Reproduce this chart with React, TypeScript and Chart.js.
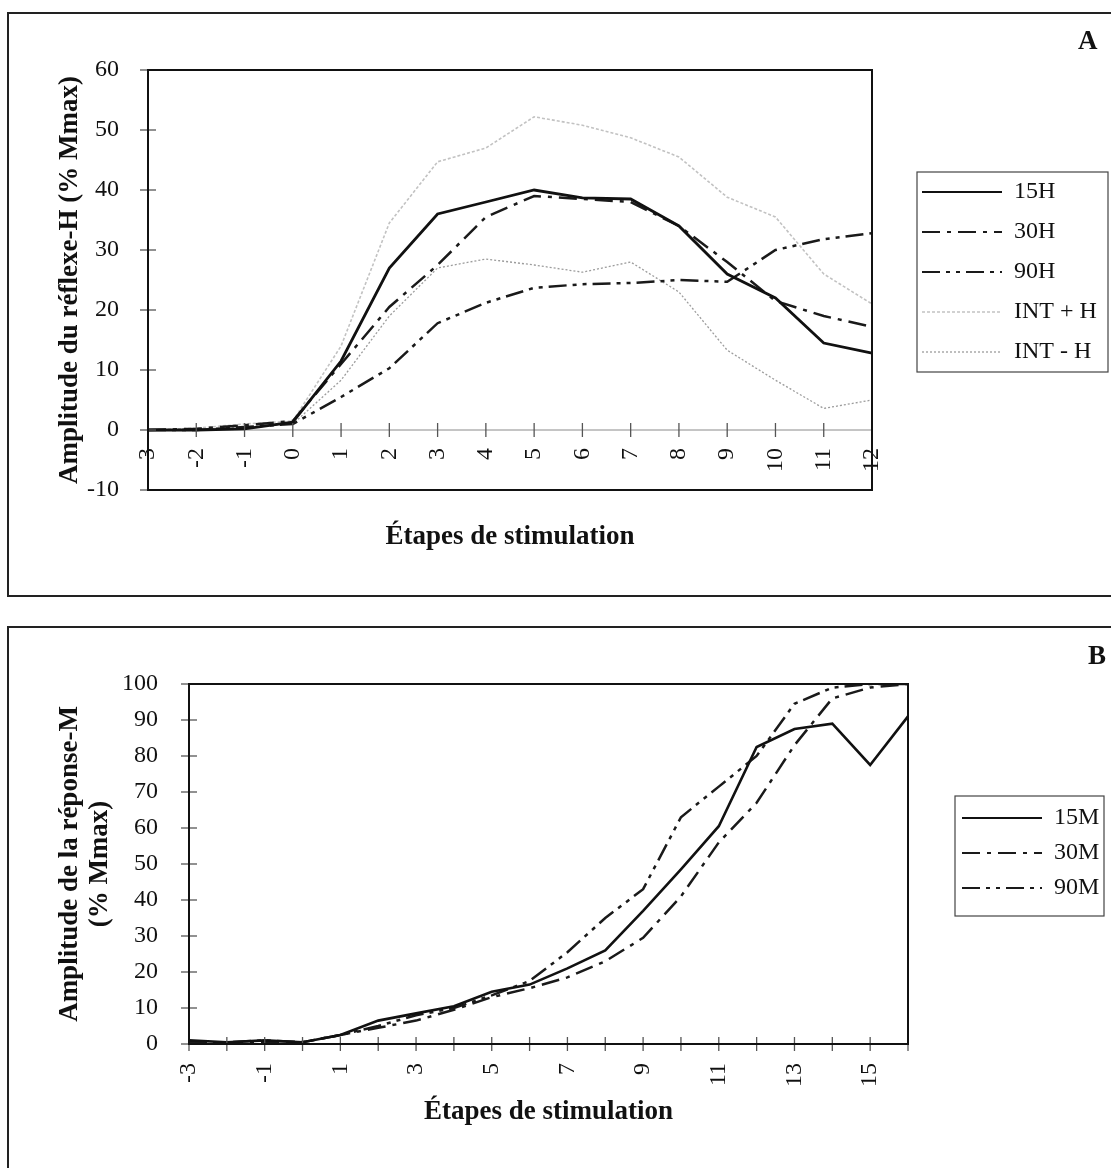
import React, { useEffect, useRef } from 'react';
import { Chart, registerables } from 'chart.js';

Chart.register(...registerables);

// ---------- Data ----------
const xLabelsA = ['-3', '-2', '-1', '0', '1', '2', '3', '4', '5', '6', '7', '8', '9', '10', '11', '12'];
const h15 = [0, 0, 0.2, 1.3, 11.5, 27, 36, 38, 40, 38.7, 38.5, 34, 26, 22, 14.5, 12.8];
const h30 = [0, 0.2, 0.8, 1.5, 11, 20.5, 27.5, 35.5, 39, 38.5, 38, 34, 28, 21.5, 19, 17.2];
const h90 = [0, 0, 0.5, 1, 5.5, 10.3, 17.8, 21.2, 23.7, 24.3, 24.5, 25, 24.7, 30, 31.8, 32.8];
const intPlusH = [0, 0.3, 1, 1.5, 14, 34.5, 44.7, 47, 52.2, 50.8, 48.7, 45.5, 38.8, 35.5, 26, 21];
const intMinusH = [0, 0, 0.5, 1, 8.3, 19, 27, 28.5, 27.5, 26.3, 28, 23, 13.3, 8.3, 3.6, 5];

const xLabelsB = ['-3', '-2', '-1', '0', '1', '2', '3', '4', '5', '6', '7', '8', '9', '10', '11', '12', '13', '14', '15', '16'];
const m15 = [1, 0.5, 1, 0.5, 2.5, 6.5, 8.5, 10.5, 14.5, 16.5, 21, 26, 37, 48.5, 60.5, 82.5, 87.5, 89, 77.5, 91];
const m30 = [0.5, 0.5, 0.5, 0.5, 2.5, 4.5, 6.5, 9.5, 13, 15.5, 18.5, 23, 29.5, 41, 56, 67, 83, 96, 99, 100];
const m90 = [0.5, 0.5, 1, 0.5, 2.5, 5, 8, 10, 13.5, 17.5, 25.5, 35, 43, 63, 71.5, 80, 94.5, 99, 100, 100];

const yTitleA = 'Amplitude du réflexe-H (% Mmax)';
const yTitleB = ['Amplitude de la réponse-M', '(% Mmax)'];
const xTitle = 'Étapes de stimulation';

// ---------- Styles ----------
const SERIF = "'Liberation Serif', 'Times New Roman', Times, serif";
const DASH_DOT = [18, 7, 4, 7];
const DASH_DOT_DOT = [18, 6, 4, 6, 4, 6];

const decorPlugin: any = {
  id: 'decor',
  afterLayout(chart: any, _args: any, opts: any) {
    const lg = chart.legend;
    if (lg && opts.legendLeft != null) {
      lg.left = opts.legendLeft;
      lg.right = opts.legendLeft + lg.width;
      lg.top = opts.legendTop;
      lg.bottom = opts.legendTop + lg.height;
    }
  },
  beforeDatasetsDraw(chart: any, _args: any, opts: any) {
    const { ctx, chartArea: a, scales } = chart;
    if (opts.zeroLine) {
      const y0 = scales.y.getPixelForValue(0);
      ctx.save();
      ctx.strokeStyle = '#8a8a8a';
      ctx.lineWidth = 1;
      ctx.beginPath();
      ctx.moveTo(a.left, y0);
      ctx.lineTo(a.right, y0);
      ctx.stroke();
      ctx.restore();
    }
  },
  afterDraw(chart: any, _args: any, opts: any) {
    const { ctx, chartArea: a, scales } = chart;
    const x = scales.x;
    const y = scales.y;
    const yLine = y.getPixelForValue(opts.xAxisAt);
    ctx.save();
    ctx.strokeStyle = '#555';
    ctx.lineWidth = 1.3;
    x.ticks.forEach((_t: any, i: number) => {
      const px = x.getPixelForTick(i);
      ctx.beginPath();
      ctx.moveTo(px, yLine - 7);
      ctx.lineTo(px, yLine + 7);
      ctx.stroke();
    });
    y.ticks.forEach((t: any) => {
      const py = y.getPixelForValue(t.value);
      ctx.beginPath();
      ctx.moveTo(a.left - 8, py);
      ctx.lineTo(a.left + 8, py);
      ctx.stroke();
    });
    ctx.strokeStyle = '#111';
    ctx.lineWidth = 2;
    ctx.strokeRect(a.left, a.top, a.right - a.left, a.bottom - a.top);
    const f = opts.legendFrame;
    if (f) {
      ctx.strokeStyle = '#444';
      ctx.lineWidth = 1.2;
      ctx.strokeRect(f[0], f[1], f[2] - f[0], f[3] - f[1]);
    }
    ctx.restore();
  },
};

function line(label: string, data: number[], color: string, width: number, dash: number[]) {
  return {
    label,
    data,
    borderColor: color,
    backgroundColor: color,
    borderWidth: width,
    borderDash: dash,
    pointRadius: 0,
    fill: false,
    tension: 0,
  };
}

const legendLabels = (padding: number) => ({
  usePointStyle: true,
  pointStyle: 'line',
  pointStyleWidth: 80,
  padding,
  color: '#111',
  font: { family: SERIF, size: 24 },
  generateLabels: (chart: any) => {
    const base = (Chart.defaults.plugins.legend.labels as any).generateLabels(chart);
    return base.map((it: any, i: number) => {
      const ds: any = chart.data.datasets[i];
      return {
        ...it,
        pointStyle: 'line',
        lineDash: ds.borderDash,
        lineWidth: Math.min(ds.borderWidth, 2.2),
        strokeStyle: ds.borderColor,
        fillStyle: ds.borderColor,
      };
    });
  },
});

const tickFont = { family: SERIF, size: 24 };
const titleFont = { family: SERIF, size: 27, weight: 'bold' as const, lineHeight: '30px' };

function ChartA() {
  const ref = useRef<HTMLCanvasElement | null>(null);
  useEffect(() => {
    if (!ref.current) return;
    const chart = new Chart(ref.current, {
      type: 'line',
      data: {
        labels: xLabelsA,
        datasets: [
          line('15H', h15, '#111', 2.8, []),
          line('30H', h30, '#1a1a1a', 2.5, DASH_DOT),
          line('90H', h90, '#1a1a1a', 2.5, DASH_DOT_DOT),
          line('INT + H', intPlusH, '#c2c2c2', 1.6, [3, 2]),
          line('INT - H', intMinusH, '#9c9c9c', 1.3, [2, 2]),
        ],
      },
      options: {
        animation: false,
        responsive: false,
        maintainAspectRatio: false,
        layout: { padding: { left: 46, top: 55, right: 237, bottom: 103 } },
        scales: {
          x: {
            type: 'category',
            position: { y: 0 } as any,
            grid: { display: false },
            border: { display: false },
            ticks: {
              autoSkip: false,
              minRotation: 90,
              maxRotation: 90,
              padding: 10,
              color: '#111',
              font: tickFont,
            },
            title: { display: true, text: xTitle, color: '#111', font: titleFont, padding: 0 },
            afterFit: (s: any) => { s.height = 122; },
          },
          y: {
            min: -10,
            max: 60,
            grid: { display: false },
            border: { display: false },
            ticks: { stepSize: 10, padding: 21, color: '#111', font: tickFont },
            title: { display: true, text: yTitleA, color: '#111', font: titleFont, padding: 0 },
            afterFit: (s: any) => { s.width = 93; },
          },
        },
        plugins: {
          legend: {
            display: true,
            position: 'chartArea',
            fullSize: false,
            align: 'start',
            labels: legendLabels(16),
          },
          tooltip: { enabled: false },
          decor: {
            legendLeft: 897,
            legendTop: 149,
            legendFrame: [908, 157, 1099, 357],
            zeroLine: true,
            xAxisAt: 0,
          },
        } as any,
      },
      plugins: [decorPlugin],
    });
    return () => chart.destroy();
  }, []);
  return (
    <canvas
      ref={ref}
      width={1100}
      height={578}
      style={{ position: 'absolute', left: 9, top: 15, width: 1100, height: 578 }}
    />
  );
}

function ChartB() {
  const ref = useRef<HTMLCanvasElement | null>(null);
  useEffect(() => {
    if (!ref.current) return;
    const chart = new Chart(ref.current, {
      type: 'line',
      data: {
        labels: xLabelsB,
        datasets: [
          line('15M', m15, '#111', 2.6, []),
          line('30M', m30, '#1a1a1a', 2.5, DASH_DOT),
          line('90M', m90, '#1a1a1a', 2.5, DASH_DOT_DOT),
        ],
      },
      options: {
        animation: false,
        responsive: false,
        maintainAspectRatio: false,
        layout: { padding: { left: 46, top: 56, right: 201, bottom: 41 } },
        scales: {
          x: {
            type: 'category',
            position: 'bottom',
            grid: { display: false },
            border: { display: false },
            ticks: {
              autoSkip: false,
              minRotation: 90,
              maxRotation: 90,
              padding: 11,
              color: '#111',
              font: tickFont,
              callback: (_v: any, i: number) => (i % 2 === 0 ? xLabelsB[i] : ''),
            },
            title: { display: true, text: xTitle, color: '#111', font: titleFont, padding: 0 },
            afterFit: (s: any) => { s.height = 83; },
          },
          y: {
            min: 0,
            max: 100,
            grid: { display: false },
            border: { display: false },
            ticks: { stepSize: 10, padding: 23, color: '#111', font: tickFont },
            title: { display: true, text: yTitleB, color: '#111', font: titleFont, padding: 0 },
            afterFit: (s: any) => { s.width = 134; },
          },
        },
        plugins: {
          legend: {
            display: true,
            position: 'chartArea',
            fullSize: false,
            align: 'start',
            labels: legendLabels(11),
          },
          tooltip: { enabled: false },
          decor: {
            legendLeft: 942,
            legendTop: 167,
            legendFrame: [946, 168, 1095, 288],
            zeroLine: false,
            xAxisAt: 0,
          },
        } as any,
      },
      plugins: [decorPlugin],
    });
    return () => chart.destroy();
  }, []);
  return (
    <canvas
      ref={ref}
      width={1100}
      height={540}
      style={{ position: 'absolute', left: 9, top: 628, width: 1100, height: 540 }}
    />
  );
}

export default function App() {
  const letter: React.CSSProperties = {
    position: 'absolute',
    fontFamily: SERIF,
    fontWeight: 'bold',
    fontSize: 27,
    lineHeight: '32px',
    color: '#111',
  };
  return (
    <div
      style={{
        position: 'absolute',
        left: 0,
        top: 0,
        width: 1111,
        height: 1168,
        overflow: 'hidden',
        background: '#fff',
      }}
    >
      <div style={{ position: 'absolute', left: 7, top: 12, width: 1120, height: 581, border: '2px solid #222' }} />
      <div style={{ position: 'absolute', left: 7, top: 626, width: 1120, height: 600, border: '2px solid #222' }} />
      <ChartA />
      <ChartB />
      <div style={{ ...letter, left: 1078, top: 24 }}>A</div>
      <div style={{ ...letter, left: 1088, top: 639 }}>B</div>
    </div>
  );
}
